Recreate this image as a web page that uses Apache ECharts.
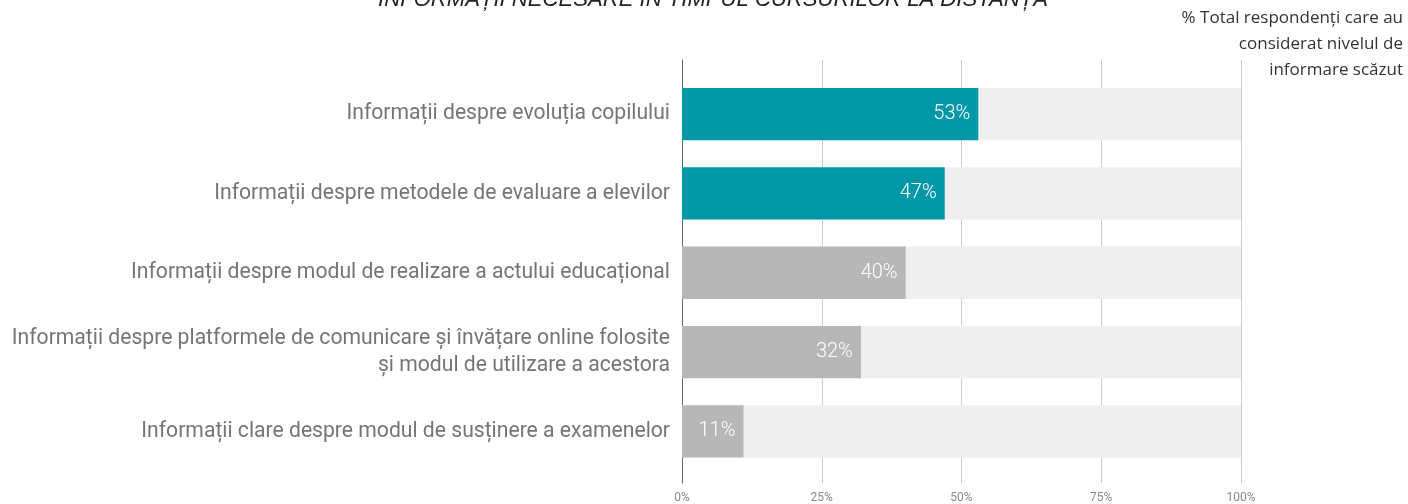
<!DOCTYPE html>
<html>
<head>
<meta charset="utf-8">
<style>
  html, body { margin: 0; padding: 0; background: #fff; }
  #chart { width: 1408px; height: 504px; }
</style>
<script src="https://cdn.jsdelivr.net/npm/echarts@6/dist/echarts.min.js"></script>
</head>
<body>
<div id="chart"></div>
<script>
// Information needs during distance learning (% respondents with low information level)
const categories = [
  'Informații despre evoluția copilului',
  'Informații despre metodele de evaluare a elevilor',
  'Informații despre modul de realizare a actului educațional',
  'Informații despre platformele de comunicare și învățare online folosite\nși modul de utilizare a acestora',
  'Informații clare despre modul de susținere a examenelor'
];
const values = [53, 47, 40, 32, 11];
const barColors = ['#0097a7', '#0097a7', '#b7b7b7', '#b7b7b7', '#b7b7b7'];
const tickValues = [0, 25, 50, 75, 100];
const titleText = 'INFORMAȚII NECESARE ÎN TIMPUL CURSURILOR LA DISTANȚĂ';
const noteLines = ['% Total respondenți care au', 'considerat nivelul de', 'informare scăzut'];

const chart = echarts.init(document.getElementById('chart'), null, { renderer: 'canvas' });

const plotLeft = 682;
const plotRight = 167;

// right-aligned note, one text element per line
const noteGraphics = noteLines.map((line, i) => ({
  type: 'text',
  right: 5,
  top: 10 + i * 26,
  style: {
    text: line,
    fontFamily: 'Open Sans',
    fontSize: 17,
    fill: '#333'
  }
}));

chart.setOption({
  animation: false,
  title: {
    text: titleText,
    left: 708,
    textAlign: 'center',
    top: -16,
    textStyle: {
      fontFamily: 'Liberation Sans',
      fontStyle: 'italic',
      fontWeight: 'normal',
      fontSize: 22.1,
      color: '#222'
    }
  },
  graphic: noteGraphics,
  grid: [
    // bars
    { left: plotLeft, right: plotRight, top: 74.5, height: 396.5, containLabel: false },
    // gridlines and value ticks
    { left: plotLeft, right: plotRight, top: 60, height: 424, containLabel: false }
  ],
  xAxis: [
    {
      gridIndex: 0, type: 'value', min: 0, max: 100, interval: 25,
      show: false
    },
    {
      gridIndex: 1, type: 'value', min: 0, max: 100, interval: 25,
      axisLine: { show: false },
      axisTick: { show: false },
      splitLine: { show: true, lineStyle: { color: '#cccccc', width: 1 } },
      axisLabel: {
        margin: 9,
        fontFamily: 'Roboto',
        fontSize: 12,
        color: '#888',
        formatter: v => tickValues.includes(v) ? v + '%' : ''
      }
    }
  ],
  yAxis: [
    {
      gridIndex: 0, type: 'category', data: categories, inverse: true,
      axisLine: { show: false },
      axisTick: { show: false },
      axisLabel: {
        margin: 12,
        fontFamily: 'Roboto',
        fontSize: 21.15,
        lineHeight: 27,
        color: '#757575',
        align: 'right'
      }
    },
    {
      gridIndex: 1, type: 'category', data: [''],
      axisLine: { show: true, lineStyle: { color: '#666', width: 1 } },
      axisTick: { show: false },
      axisLabel: { show: false }
    }
  ],
  series: [{
    type: 'bar',
    xAxisIndex: 0,
    yAxisIndex: 0,
    barCategoryGap: '34%',
    z: 3,
    data: values.map((v, i) => ({ value: v, itemStyle: { color: barColors[i] } })),
    showBackground: true,
    backgroundStyle: { color: '#efefef' },
    label: {
      show: true,
      position: 'insideRight',
      distance: 8,
      formatter: p => p.value + '%',
      fontFamily: 'Roboto',
      fontWeight: 300,
      fontSize: 20,
      color: '#fff',
      textBorderWidth: 0
    }
  }]
});
</script>
</body>
</html>
